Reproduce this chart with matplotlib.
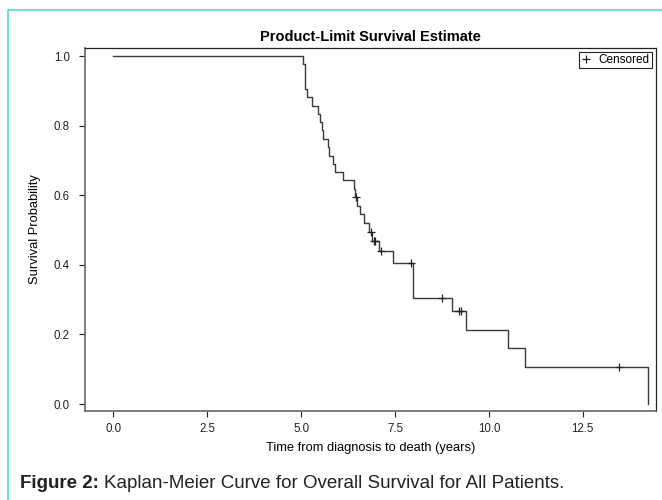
import matplotlib
matplotlib.use('Agg')
import matplotlib.pyplot as plt
from matplotlib.patches import Rectangle
from matplotlib.lines import Line2D

# step times (years) and Kaplan-Meier survival level after each step
stepTimes = [0.0, 5.04, 5.09, 5.15, 5.28, 5.46, 5.50, 5.55, 5.59, 5.71, 5.74, 5.86, 5.90, 6.11,
             6.40, 6.43, 6.48, 6.58, 6.68, 6.80, 6.90, 7.08, 7.44, 7.98, 9.03, 9.39, 10.50,
             10.96, 14.24]
stepSurv = [1.0, 0.976, 0.905, 0.881, 0.857, 0.833, 0.810, 0.786, 0.762, 0.738, 0.714, 0.690,
            0.667, 0.643, 0.619, 0.595, 0.570, 0.545, 0.520, 0.495, 0.469, 0.440, 0.406, 0.305,
            0.267, 0.214, 0.160, 0.107, 0.0]
# censored observations
censTimes = [6.46, 6.87, 6.93, 6.98, 7.12, 7.93, 8.75, 9.19, 9.26, 13.47]
censSurv = [0.595, 0.495, 0.469, 0.469, 0.440, 0.406, 0.305, 0.267, 0.267, 0.107]

xTicks = [0.0, 2.5, 5.0, 7.5, 10.0, 12.5]
yTicks = [0.0, 0.2, 0.4, 0.6, 0.8, 1.0]

plt.rcParams['font.family'] = ['Liberation Sans', 'DejaVu Sans']

fig = plt.figure(figsize=(6.62, 5.0), dpi=100)
# teal frame of the figure panel
fig.patches.append(Rectangle((8 / 662, -0.1), 1.2, 1 - 10 / 500 + 0.1, transform=fig.transFigure,
                             fill=False, edgecolor='#5fd3c3', linewidth=1.2))

ax = fig.add_axes([85 / 662, 1 - 411 / 500, (655.7 - 85) / 662, (411 - 48) / 500])
ax.step(stepTimes, stepSurv, where='post', color='#3a3a3a', linewidth=1.0)
ax.plot(censTimes, censSurv, '+', color='#222222', ms=6, mew=0.9, linestyle='none')

ax.set_xlim(-0.754, 14.44)
ax.set_ylim(-0.020, 1.023)
ax.set_xticks(xTicks)
ax.set_xticklabels(['%.1f' % v for v in xTicks])
ax.set_yticks(yTicks)
ax.set_yticklabels(['%.1f' % v for v in yTicks])
ax.tick_params(direction='out', length=4, width=0.8, labelsize=8.3, colors='#222222')
ax.tick_params(axis='x', pad=5)
ax.tick_params(axis='y', pad=7)
for side in ['left', 'bottom']:
    ax.spines[side].set_color('#666666')
    ax.spines[side].set_linewidth(1.2)
for side in ['top', 'right']:
    ax.spines[side].set_color('#222222')
    ax.spines[side].set_linewidth(0.9)

ax.set_title('Product-Limit Survival Estimate', fontsize=10.5, fontweight='bold', pad=5)
ax.set_xlabel('Time from diagnosis to death (years)', fontsize=9.3, labelpad=5)
ax.set_ylabel('Survival Probability', fontsize=9.3, labelpad=9)

handle = Line2D([], [], marker='+', color='#222222', linestyle='none', ms=6, mew=0.9)
leg = ax.legend([handle], ['Censored'], loc='upper right', fontsize=8.5, handlelength=0.9,
                handletextpad=0.6, borderpad=0.15, borderaxespad=0.35, fancybox=False,
                framealpha=1)
leg.get_frame().set_edgecolor('#222222')
leg.get_frame().set_linewidth(0.8)

capY = 1 - 484 / 500
t1 = fig.text(20 / 662, capY, 'Figure 2: ', fontsize=13.5, fontweight='bold', color='#222222',
              va='center')
fig.canvas.draw()
bb = t1.get_window_extent(renderer=fig.canvas.get_renderer())
fig.text(bb.x1 / fig.bbox.width, capY, 'Kaplan-Meier Curve for Overall Survival for All Patients.',
         fontsize=13.5, color='#222222', va='center')

fig.savefig('out.png', dpi=100)
